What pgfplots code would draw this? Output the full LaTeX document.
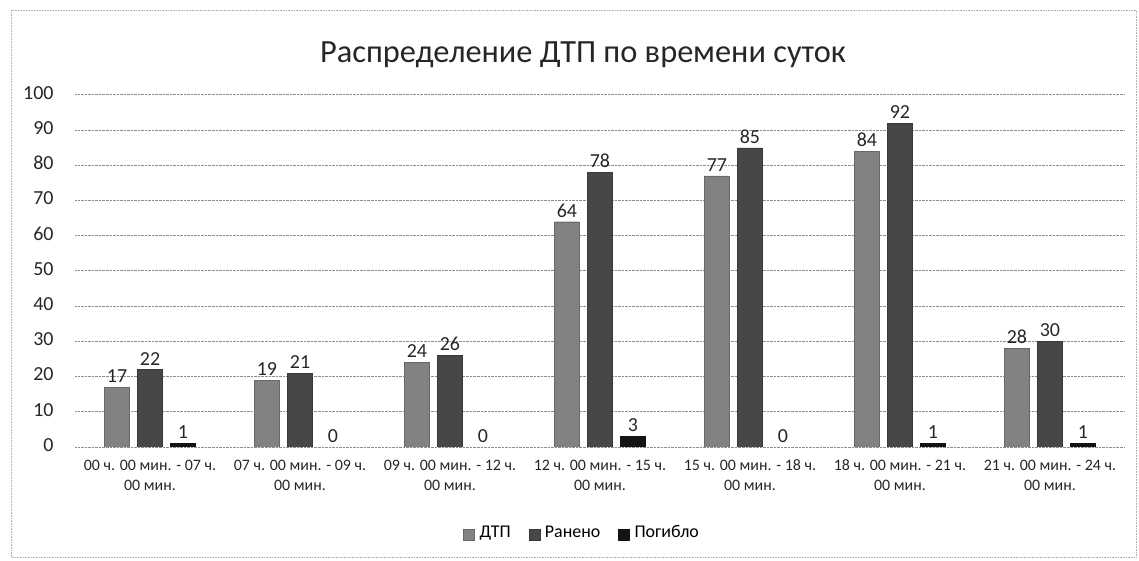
\documentclass[border=0pt]{standalone}
\usepackage{pgfplots}
\pgfplotsset{compat=1.18}
\usepackage{fontspec}
\setmainfont{Carlito}
\definecolor{cDTP}{HTML}{828282}
\definecolor{cRan}{HTML}{474747}
\definecolor{cPog}{HTML}{141414}
\definecolor{cGrid}{HTML}{8C8C8C}
\begin{document}
\begin{tikzpicture}
\path[use as bounding box] (0bp,0bp) rectangle (1139bp,561bp);
\draw[densely dotted, gray!60, line width=0.6bp] (11bp,4bp) rectangle (1136bp,551bp);
\begin{axis}[
  at={(75bp,114bp)}, anchor=south west,
  scale only axis, width=1050bp, height=352bp,
  ymin=0, ymax=100, ytick={0,10,...,100},
  xmin=-0.5, xmax=6.5, xtick={0,...,6},
  xticklabels={{00 ч. 00 мин. - 07 ч.\\00 мин.},{07 ч. 00 мин. - 09 ч.\\00 мин.},{09 ч. 00 мин. - 12 ч.\\00 мин.},{12 ч. 00 мин. - 15 ч.\\00 мин.},{15 ч. 00 мин. - 18 ч.\\00 мин.},{18 ч. 00 мин. - 21 ч.\\00 мин.},{21 ч. 00 мин. - 24 ч.\\00 мин.}},
  typeset ticklabels with strut,
  xticklabel style={align=center, font=\fontsize{16}{20}\selectfont, text=black!85, yshift=-6bp},
  yticklabel style={font=\fontsize{20}{22}\selectfont, text=black!85, xshift=-18bp},
  /pgf/number format/assume math mode=true,
  axis line style={draw=none},
  major tick length=0pt,
  ymajorgrids, grid style={cGrid, densely dotted, line width=1bp},
  ybar=8bp, bar width=25bp,
  nodes near coords,
  every node near coord/.append style={font=\fontsize{20}{22}\selectfont, text=black!85, yshift=1bp},
  legend columns=3,
  legend style={at={(0.483,-0.25)}, anchor=center, draw=none, fill=none,
    font=\fontsize{18}{20}\selectfont,
    nodes={text height=0.7em, text depth=0.2em},
    /tikz/every odd column/.append style={column sep=0bp},
    /tikz/every even column/.append style={column sep=16bp}},
  legend image code/.code={\path[draw=none, fill=none] (0bp,0bp) -- (14bp,0bp); \fill[#1] (0bp,-5bp) rectangle (11bp,6bp);},
]
\addplot[fill=cDTP, draw=cDTP!80!black] coordinates {(0,17) (1,19) (2,24) (3,64) (4,77) (5,84) (6,28)};
\addplot[fill=cRan, draw=cRan!80!black] coordinates {(0,22) (1,21) (2,26) (3,78) (4,85) (5,92) (6,30)};
\addplot[fill=cPog, draw=cPog] coordinates {(0,1) (1,0) (2,0) (3,3) (4,0) (5,1) (6,1)};
\legend{ДТП, Ранено, Погибло}
\end{axis}
\node[font=\fontsize{32.5}{36}\selectfont, text=black!85] at (583bp,506bp) {Распределение ДТП по времени суток};
\end{tikzpicture}
\end{document}
